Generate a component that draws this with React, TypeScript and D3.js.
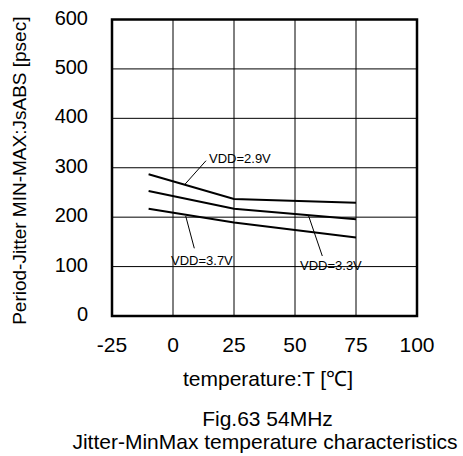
import React from "react";
import * as d3 from "d3";

const temps = [-10, 25, 75];
const vdd29 = [287, 237, 229];
const vdd33 = [253, 217, 196];
const vdd37 = [217, 189, 159];
const xTicks = [-25, 0, 25, 50, 75, 100];
const yTicks = [0, 100, 200, 300, 400, 500, 600];

const W = 463, H = 456;
const left = 112, right = 417, top = 19.5, bottom = 316;
const FONT = "Liberation Sans, Arial, sans-serif";

export default function App() {
  const x = d3.scaleLinear().domain([-25, 100]).range([left, right]);
  const y = d3.scaleLinear().domain([0, 600]).range([bottom, top]);
  const line = d3.line<number>().x((_, i) => x(temps[i])).y((d) => y(d));
  const series = [vdd29, vdd33, vdd37];
  return (
    <svg width={W} height={H} style={{ position: "absolute", left: 0, top: 0, background: "#fff" }}>
      <rect x={0} y={0} width={W} height={H} fill="#fff" />
      {xTicks.slice(1, -1).map((t) => (
        <line key={"gx" + t} x1={x(t)} x2={x(t)} y1={top} y2={bottom} stroke="#000" strokeWidth={1} />
      ))}
      {yTicks.slice(1, -1).map((t) => (
        <line key={"gy" + t} x1={left} x2={right} y1={y(t)} y2={y(t)} stroke="#000" strokeWidth={1} />
      ))}
      <rect x={left} y={top} width={right - left} height={bottom - top} fill="none" stroke="#000" strokeWidth={2.5} />
      {series.map((s, i) => (
        <path key={i} d={line(s) || ""} fill="none" stroke="#000" strokeWidth={2} />
      ))}
      {/* labels & leaders */}
      <line x1={206} y1={160.7} x2={184.3} y2={185} stroke="#000" strokeWidth={1} />
      <text x={209} y={163} fontFamily={FONT} fontSize={13}>VDD=2.9V</text>
      <line x1={185.7} y1={216} x2={194.3} y2={248.3} stroke="#000" strokeWidth={1} />
      <text x={171} y={265} fontFamily={FONT} fontSize={13}>VDD=3.7V</text>
      <line x1={308.3} y1={215} x2={322.3} y2={256} stroke="#000" strokeWidth={1} />
      <text x={300} y={270} fontFamily={FONT} fontSize={13}>VDD=3.3V</text>
      {yTicks.map((t) => (
        <text key={"yt" + t} x={88} y={y(t) + 5} textAnchor="end" fontFamily={FONT} fontSize={20}>{t}</text>
      ))}
      {xTicks.map((t) => (
        <text key={"xt" + t} x={x(t)} y={352} textAnchor="middle" fontFamily={FONT} fontSize={21}>{t}</text>
      ))}
      <text x={268} y={385.5} textAnchor="middle" fontFamily={FONT} fontSize={21}>temperature:T [℃]</text>
      <text transform="translate(26,170.7) rotate(-90)" textAnchor="middle" fontFamily={FONT} fontSize={19}>Period-Jitter MIN-MAX:JsABS [psec]</text>
      <text x={267.5} y={425.5} textAnchor="middle" fontFamily={FONT} fontSize={21}>Fig.63 54MHz</text>
      <text x={265} y={449} textAnchor="middle" fontFamily={FONT} fontSize={21}>Jitter-MinMax temperature characteristics</text>
    </svg>
  );
}
